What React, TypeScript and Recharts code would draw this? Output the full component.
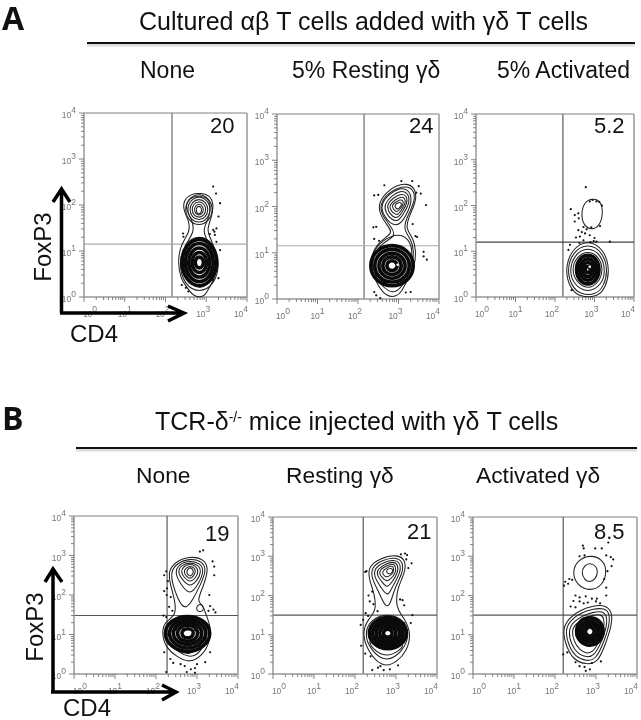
import React from "react";
import { ScatterChart, Scatter, XAxis, YAxis, ReferenceLine } from "recharts";

type Pair = number[];

// Axis ticks, in decades of fluorescence intensity
const majorTicks = [0, 1, 2, 3, 4];
const axisTicks = [
  0, 0.3, 0.48, 0.6, 0.7, 0.78, 0.85, 0.9, 0.95,
  1, 1.3, 1.48, 1.6, 1.7, 1.78, 1.85, 1.9, 1.95,
  2, 2.3, 2.48, 2.6, 2.7, 2.78, 2.85, 2.9, 2.95,
  3, 3.3, 3.48, 3.6, 3.7, 3.78, 3.85, 3.9, 3.95, 4,
];

// Panel A, None
const a1Lines: Pair[][] = [
  [[2.85,2.26],[3.08,2.22],[3.19,2.02],[3.13,1.72],[3.0,1.45],[3.14,1.22],[3.3,0.8],[3.22,0.42],[3.02,0.12],[2.95,0],[2.7,0],[2.58,0.15],[2.36,0.4],[2.3,0.8],[2.38,1.15],[2.6,1.42],[2.58,1.65],[2.44,1.88],[2.44,2.1],[2.62,2.24]],
  [[2.85,2.2],[3.05,2.15],[3.12,1.95],[3.05,1.68],[2.9,1.45],[3.05,1.18],[3.22,0.8],[3.15,0.45],[2.95,0.2],[2.75,0.2],[2.45,0.45],[2.38,0.8],[2.46,1.12],[2.72,1.42],[2.65,1.68],[2.5,1.9],[2.52,2.08],[2.68,2.18]],
  [[3.18,1.9],[3.07,2.15],[2.82,2.26],[2.57,2.15],[2.46,1.9],[2.57,1.65],[2.82,1.54],[3.07,1.65]],
  [[3.12,1.9],[3.03,2.11],[2.82,2.2],[2.61,2.11],[2.52,1.9],[2.61,1.69],[2.82,1.6],[3.03,1.69]],
  [[3.06,1.9],[2.99,2.07],[2.82,2.14],[2.65,2.07],[2.58,1.9],[2.65,1.73],[2.82,1.66],[2.99,1.73]],
  [[3.0,1.9],[2.95,2.03],[2.82,2.08],[2.69,2.03],[2.64,1.9],[2.69,1.77],[2.82,1.72],[2.95,1.77]],
  [[2.94,1.9],[2.9,1.99],[2.82,2.03],[2.74,1.99],[2.7,1.9],[2.74,1.81],[2.82,1.77],[2.9,1.81]],
  [[2.89,1.89],[2.87,1.95],[2.82,1.98],[2.77,1.95],[2.75,1.89],[2.77,1.83],[2.82,1.8],[2.87,1.83]],
  [[3.34,0.72],[3.2,1.17],[2.83,1.36],[2.46,1.17],[2.32,0.72],[2.46,0.27],[2.83,0.08],[3.2,0.27]],
];
const a1Core: Pair[][] = [
  [[3.3,0.75],[3.16,1.14],[2.83,1.31],[2.5,1.14],[2.36,0.75],[2.5,0.36],[2.83,0.19],[3.16,0.36]],
  [[3.21,0.75],[3.1,1.07],[2.83,1.21],[2.56,1.07],[2.45,0.75],[2.56,0.43],[2.83,0.29],[3.1,0.43]],
  [[3.12,0.75],[3.03,1.0],[2.83,1.1],[2.63,1.0],[2.54,0.75],[2.63,0.5],[2.83,0.4],[3.03,0.5]],
  [[3.03,0.75],[2.97,0.92],[2.83,0.99],[2.69,0.92],[2.63,0.75],[2.69,0.58],[2.83,0.51],[2.97,0.58]],
  [[2.94,0.75],[2.91,0.84],[2.83,0.88],[2.75,0.84],[2.72,0.75],[2.75,0.66],[2.83,0.62],[2.91,0.66]],
];
const a1Dots: Pair[] = [[3.17,2.4],[3.24,2.25],[3.34,2.04],[3.3,1.75],[3.17,1.46],[3.25,1.49],[3.09,1.37],[3.21,1.35],[3.25,1.2],[3.34,1.02],[2.4,0.26],[2.56,0.12],[3.17,0.37],[3.3,0.41],[2.44,1.31],[2.43,1.38],[3.2,1.42],[2.5,0.2]];
const a1Center: Pair[] = [[2.83,0.76],[2.82,1.9]];

// Panel A, 5% Resting
const a2Lines: Pair[][] = [
  [[3.2,2.5],[3.41,2.41],[3.45,2.14],[3.28,1.82],[3.16,1.53],[3.37,1.31],[3.43,1.06],[3.41,0.7],[3.2,0.38],[3.08,0.16],[2.95,0.05],[2.71,0.05],[2.5,0.27],[2.31,0.63],[2.31,0.91],[2.5,1.24],[2.87,1.42],[2.75,1.56],[2.54,1.82],[2.5,2.07],[2.71,2.32],[2.95,2.46]],
  [[3.2,2.44],[3.38,2.36],[3.41,2.12],[3.24,1.82],[3.1,1.52],[3.32,1.28],[3.38,1.05],[3.35,0.7],[3.16,0.36],[2.95,0.14],[2.75,0.16],[2.52,0.34],[2.36,0.65],[2.36,0.9],[2.56,1.2],[2.95,1.36],[2.83,1.55],[2.58,1.82],[2.54,2.05],[2.75,2.3],[2.98,2.4]],
  [[3.24,2.38],[3.35,2.14],[3.2,1.82],[3.02,1.58],[2.8,1.62],[2.62,1.82],[2.56,2.05],[2.78,2.28],[3.03,2.4]],
  [[3.22,2.31],[3.29,2.11],[3.14,1.86],[2.99,1.67],[2.83,1.71],[2.68,1.87],[2.64,2.04],[2.84,2.24],[3.04,2.34]],
  [[3.19,2.25],[3.23,2.09],[3.1,1.89],[2.98,1.74],[2.85,1.78],[2.74,1.91],[2.71,2.04],[2.87,2.19],[3.05,2.27]],
  [[3.16,2.19],[3.18,2.07],[3.06,1.91],[2.98,1.81],[2.88,1.85],[2.79,1.94],[2.78,2.04],[2.91,2.14],[3.05,2.21]],
  [[3.12,2.13],[3.12,2.04],[3.03,1.94],[2.97,1.88],[2.9,1.91],[2.85,1.98],[2.85,2.05],[2.95,2.1],[3.04,2.15]],
  [[3.08,2.08],[3.07,2.02],[3.01,1.96],[2.97,1.94],[2.93,1.97],[2.91,2.01],[2.93,2.05],[3.0,2.09]],
  [[3.0,1.42],[3.26,1.3],[3.36,1.02],[3.27,0.58],[2.98,0.2],[2.58,0.36],[2.3,0.72],[2.38,1.05],[2.65,1.3]],
];
const a2Core: Pair[][] = [
  [[3.42,0.72],[3.25,1.06],[2.84,1.2],[2.43,1.06],[2.26,0.72],[2.43,0.38],[2.84,0.24],[3.25,0.38]],
  [[3.31,0.72],[3.17,1.0],[2.84,1.11],[2.51,1.0],[2.37,0.72],[2.51,0.44],[2.84,0.33],[3.17,0.44]],
  [[3.2,0.72],[3.09,0.93],[2.84,1.02],[2.59,0.93],[2.48,0.72],[2.59,0.51],[2.84,0.42],[3.09,0.51]],
  [[3.09,0.72],[3.02,0.87],[2.84,0.93],[2.66,0.87],[2.59,0.72],[2.66,0.57],[2.84,0.51],[3.02,0.57]],
  [[2.98,0.72],[2.94,0.8],[2.84,0.84],[2.74,0.8],[2.7,0.72],[2.74,0.64],[2.84,0.6],[2.94,0.64]],
];
const a2Dots: Pair[] = [[3.07,2.55],[3.34,2.55],[3.5,2.44],[3.55,2.28],[3.68,2.03],[3.44,2.3],[2.65,2.46],[2.5,2.25],[2.4,2.24],[2.38,1.55],[2.45,1.56],[2.4,1.3],[2.52,1.26],[3.35,1.62],[3.42,1.36],[3.46,1.34],[3.62,1.02],[3.7,0.85],[3.62,0.92],[2.4,0.15],[2.45,0.08],[3.3,0.15],[3.18,0.14],[2.55,0.02]];
const a2Center: Pair[] = [[2.98,0.74],[2.98,2.01]];

// Panel A, 5% Activated
const a3Lines: Pair[][] = [
  [[3.22,1.85],[3.16,2.1],[2.95,2.16],[2.74,2.08],[2.66,1.82],[2.72,1.56],[2.93,1.46],[3.14,1.56]],
  [[3.39,0.58],[3.25,1.04],[2.83,1.26],[2.41,1.04],[2.25,0.58],[2.38,0.2],[2.6,0],[3.08,0],[3.28,0.2]],
  [[3.34,0.58],[3.22,0.98],[2.83,1.18],[2.44,0.98],[2.3,0.58],[2.42,0.24],[2.64,0.05],[3.04,0.05],[3.24,0.24]],
  [[3.28,0.58],[3.17,0.93],[2.83,1.1],[2.49,0.93],[2.36,0.58],[2.47,0.27],[2.83,0.08],[3.19,0.27]],
  [[3.22,0.6],[3.12,0.88],[2.83,1.02],[2.54,0.88],[2.42,0.6],[2.54,0.32],[2.83,0.16],[3.12,0.32]],
];
const a3Core: Pair[][] = [
  [[3.14,0.6],[3.06,0.84],[2.83,0.95],[2.6,0.84],[2.52,0.6],[2.6,0.36],[2.83,0.25],[3.06,0.36]],
  [[3.06,0.6],[2.99,0.78],[2.83,0.86],[2.67,0.78],[2.6,0.6],[2.67,0.42],[2.83,0.34],[2.99,0.42]],
  [[2.98,0.6],[2.93,0.72],[2.83,0.77],[2.73,0.72],[2.68,0.6],[2.73,0.48],[2.83,0.43],[2.93,0.48]],
  [[2.9,0.6],[2.88,0.65],[2.83,0.68],[2.78,0.65],[2.76,0.6],[2.78,0.55],[2.83,0.52],[2.88,0.55]],
];
const a3Dots: Pair[] = [[2.78,2.4],[2.4,1.92],[2.5,1.65],[2.5,1.79],[2.59,1.83],[2.6,1.72],[2.88,2.09],[2.95,2.12],[3.05,2.09],[3.12,2.08],[3.19,2.0],[3.14,1.55],[2.59,1.46],[2.72,1.53],[2.63,1.32],[2.76,1.39],[2.88,1.35],[3.0,1.29],[3.05,1.21],[3.39,1.21],[2.72,1.24],[2.38,1.14],[2.34,1.03],[2.42,0.15],[2.53,1.3],[2.8,1.48],[2.92,1.52],[2.68,1.42],[2.62,1.18],[2.9,1.2],[2.98,1.22]];
const a3Center: Pair[] = [[2.88,0.66]];

// Panel B, None
const b1Lines: Pair[][] = [
  [[2.83,2.99],[3.2,2.9],[3.28,2.63],[3.15,2.21],[2.99,1.83],[3.15,1.75],[3.2,1.54],[3.33,1.24],[3.33,0.86],[3.15,0.48],[2.83,0.27],[2.5,0.44],[2.22,0.69],[2.14,1.07],[2.22,1.33],[2.5,1.49],[2.46,1.87],[2.34,2.3],[2.3,2.59],[2.46,2.84]],
  [[2.83,2.93],[3.14,2.85],[3.23,2.62],[3.08,2.25],[2.9,1.88],[2.7,1.6],[2.52,1.92],[2.4,2.3],[2.36,2.58],[2.5,2.8]],
  [[2.83,2.88],[3.09,2.8],[3.17,2.6],[3.05,2.3],[2.83,1.98],[2.62,2.25],[2.45,2.55],[2.55,2.78]],
  [[2.83,2.83],[3.04,2.76],[3.11,2.58],[3.0,2.36],[2.83,2.2],[2.66,2.36],[2.52,2.58],[2.62,2.76]],
  [[2.83,2.79],[2.99,2.73],[3.04,2.58],[2.96,2.42],[2.83,2.32],[2.7,2.42],[2.6,2.58],[2.67,2.73]],
  [[2.83,2.74],[2.94,2.69],[2.97,2.58],[2.91,2.47],[2.83,2.4],[2.74,2.47],[2.67,2.58],[2.73,2.69]],
  [[2.83,2.7],[2.89,2.66],[2.92,2.58],[2.88,2.51],[2.83,2.47],[2.78,2.51],[2.74,2.58],[2.78,2.66]],
  [[3.07,1.78],[3.15,1.72],[3.17,1.62],[3.07,1.56],[2.98,1.62],[3.0,1.72]],
  [[3.3,1.06],[3.15,1.38],[2.75,1.5],[2.35,1.38],[2.17,1.06],[2.35,0.7],[2.83,0.36],[3.12,0.58]],
  [[3.22,1.0],[3.1,0.72],[2.83,0.46],[2.5,0.6],[2.28,0.8],[2.2,1.05],[2.75,1.2]],
];
const b1Core: Pair[][] = [
  [[3.37,1.03],[3.19,1.37],[2.77,1.5],[2.35,1.37],[2.17,1.03],[2.35,0.68],[2.77,0.52],[3.19,0.68]],
  [[3.26,1.03],[3.11,1.32],[2.77,1.42],[2.43,1.32],[2.28,1.03],[2.43,0.74],[2.77,0.62],[3.11,0.74]],
  [[3.15,1.03],[3.04,1.26],[2.77,1.34],[2.5,1.26],[2.39,1.03],[2.5,0.8],[2.77,0.72],[3.04,0.8]],
  [[3.04,1.03],[2.96,1.2],[2.77,1.25],[2.58,1.2],[2.5,1.03],[2.58,0.86],[2.77,0.81],[2.96,0.86]],
  [[2.92,1.03],[2.88,1.12],[2.77,1.16],[2.66,1.12],[2.62,1.03],[2.66,0.94],[2.77,0.9],[2.88,0.94]],
];
const b1Dots: Pair[] = [[3.15,3.13],[3.07,3.1],[3.38,2.85],[3.42,2.72],[3.42,2.5],[2.25,2.6],[2.2,2.5],[2.29,2.35],[2.27,2.17],[2.2,2.1],[2.26,2.0],[2.36,1.95],[3.3,2.0],[3.32,1.72],[3.4,1.63],[3.45,1.56],[2.32,1.7],[2.4,1.6],[2.18,1.48],[2.25,1.44],[3.28,1.6],[2.2,0.55],[2.35,0.38],[2.42,0.28],[2.6,0.25],[2.7,0.2],[2.85,0.12],[2.95,0.15],[3.0,0.25],[3.2,0.3],[3.32,0.55],[2.25,0.05],[2.95,0.03],[2.75,0.05]];
const b1Center: Pair[] = [[2.83,1.06],[2.83,2.59]];

// Panel B, Resting
const b2Lines: Pair[][] = [
  [[3.02,3.05],[3.24,2.91],[3.22,2.56],[3.02,2.18],[3.0,1.67],[3.18,1.46],[3.38,1.04],[3.26,0.57],[3.02,0.31],[2.77,0.19],[2.53,0.31],[2.33,0.57],[2.16,1.04],[2.33,1.42],[2.51,1.59],[2.49,2.01],[2.33,2.44],[2.33,2.74],[2.61,2.95]],
  [[2.98,2.98],[3.18,2.86],[3.16,2.56],[2.96,2.18],[2.86,1.75],[2.74,1.7],[2.6,2.05],[2.4,2.44],[2.4,2.72],[2.66,2.9]],
  [[2.95,2.92],[3.12,2.82],[3.1,2.56],[2.92,2.25],[2.8,1.95],[2.64,2.2],[2.47,2.46],[2.47,2.7],[2.7,2.85]],
  [[2.93,2.87],[3.06,2.78],[3.04,2.56],[2.9,2.34],[2.78,2.18],[2.65,2.36],[2.54,2.5],[2.54,2.68],[2.74,2.8]],
  [[2.92,2.82],[3.0,2.74],[2.99,2.56],[2.87,2.42],[2.76,2.35],[2.66,2.46],[2.6,2.54],[2.6,2.66],[2.77,2.76]],
  [[2.9,2.76],[2.95,2.7],[2.94,2.58],[2.85,2.5],[2.75,2.46],[2.68,2.54],[2.66,2.62],[2.8,2.72]],
  [[2.88,2.7],[2.93,2.65],[2.9,2.58],[2.85,2.55],[2.79,2.56],[2.76,2.62],[2.8,2.68]],
  [[3.34,1.04],[3.18,1.4],[2.78,1.54],[2.4,1.4],[2.22,1.04],[2.38,0.6],[2.76,0.28],[3.18,0.58]],
  [[3.24,0.8],[3.1,0.6],[2.76,0.42],[2.44,0.62],[2.28,0.9],[2.78,1.0]],
];
const b2Core: Pair[][] = [
  [[3.3,1.04],[3.15,1.35],[2.8,1.48],[2.45,1.35],[2.3,1.04],[2.45,0.73],[2.8,0.6],[3.15,0.73]],
  [[3.21,1.04],[3.09,1.29],[2.8,1.4],[2.51,1.29],[2.39,1.04],[2.51,0.79],[2.8,0.68],[3.09,0.79]],
  [[3.12,1.04],[3.02,1.24],[2.8,1.32],[2.58,1.24],[2.48,1.04],[2.58,0.84],[2.8,0.76],[3.02,0.84]],
  [[3.02,1.04],[2.95,1.18],[2.8,1.24],[2.65,1.18],[2.58,1.04],[2.65,0.9],[2.8,0.84],[2.95,0.9]],
  [[2.92,1.04],[2.88,1.12],[2.8,1.15],[2.72,1.12],[2.68,1.04],[2.72,0.96],[2.8,0.93],[2.88,0.96]],
];
const b2Dots: Pair[] = [[3.22,3.07],[3.27,3.03],[3.12,3.05],[3.38,2.82],[3.3,2.7],[3.25,2.92],[2.28,2.62],[2.25,2.6],[2.33,2.0],[2.36,1.85],[2.42,2.1],[2.45,1.78],[3.1,1.9],[3.16,1.88],[3.2,1.75],[2.26,1.55],[2.32,1.48],[2.55,1.6],[3.2,1.3],[3.4,1.5],[3.36,1.3],[2.15,0.72],[2.25,0.52],[2.38,0.45],[2.56,0.16],[2.62,0.2],[2.7,0.1],[2.85,0.12],[3.05,0.22],[2.42,0.1],[2.14,1.25],[2.2,1.38]];
const b2Center: Pair[] = [[2.8,1.04],[2.85,2.65]];

// Panel B, Activated
const b3Lines: Pair[][] = [
  [[3.27,2.62],[3.17,2.92],[2.86,3.04],[2.55,2.9],[2.42,2.6],[2.52,2.28],[2.84,2.1],[3.17,2.26]],
  [[3.05,2.6],[3.0,2.76],[2.85,2.83],[2.71,2.76],[2.64,2.58],[2.72,2.4],[2.85,2.33],[2.99,2.42]],
  [[3.22,1.76],[3.4,1.59],[3.38,1.21],[3.22,0.74],[3.06,0.31],[2.77,0.23],[2.45,0.36],[2.29,0.66],[2.17,1.12],[2.33,1.42],[2.61,1.63],[2.94,1.74]],
  [[3.2,1.68],[3.34,1.55],[3.32,1.2],[3.17,0.76],[3.0,0.38],[2.77,0.32],[2.5,0.44],[2.34,0.7],[2.24,1.12],[2.38,1.38],[2.65,1.57],[2.94,1.66]],
  [[3.16,1.6],[3.27,1.48],[3.26,1.18],[3.12,0.78],[2.95,0.46],[2.77,0.42],[2.55,0.52],[2.4,0.74],[2.32,1.1],[2.44,1.33],[2.7,1.5],[2.94,1.58]],
  [[3.12,1.52],[3.2,1.42],[3.2,1.16],[3.07,0.8],[2.92,0.55],[2.76,0.52],[2.6,0.62],[2.47,0.8],[2.4,1.1],[2.5,1.28],[2.74,1.44],[2.94,1.5]],
];
const b3Core: Pair[][] = [
  [[3.21,1.1],[3.1,1.37],[2.85,1.46],[2.6,1.37],[2.49,1.08],[2.6,0.81],[2.85,0.7],[3.1,0.81]],
  [[3.13,1.08],[3.05,1.29],[2.85,1.37],[2.65,1.29],[2.57,1.08],[2.65,0.87],[2.85,0.79],[3.05,0.87]],
  [[3.05,1.08],[2.99,1.23],[2.85,1.29],[2.71,1.23],[2.65,1.08],[2.71,0.93],[2.85,0.87],[2.99,0.93]],
  [[2.97,1.08],[2.93,1.17],[2.85,1.21],[2.77,1.17],[2.73,1.08],[2.77,0.99],[2.85,0.95],[2.93,0.99]],
];
const b3Dots: Pair[] = [[2.68,3.27],[2.7,3.2],[2.98,3.2],[3.14,3.2],[3.3,3.35],[2.72,3.02],[2.6,3.0],[3.25,3.02],[3.36,2.98],[3.42,2.92],[3.38,2.75],[3.28,2.62],[3.2,2.42],[2.25,2.35],[2.35,2.42],[2.42,2.4],[2.22,2.25],[2.32,2.3],[3.25,2.2],[2.5,2.0],[2.6,1.95],[2.75,1.98],[2.9,1.92],[3.02,1.92],[3.25,2.0],[2.45,1.86],[2.6,1.85],[2.8,1.82],[3.0,1.85],[3.1,1.8],[2.38,1.72],[2.5,1.7],[2.7,1.8],[2.3,0.55],[2.2,0.5],[2.5,0.3],[2.6,0.2],[2.75,0.08],[2.85,0.12],[2.72,0.18],[2.9,0.28],[3.12,0.32]];
const b3Center: Pair[] = [[2.84,1.09]];

// Quadrant gates
const gatesX = [2.16, 2.15, 2.2, 2.27, 2.2, 2.2];
const gatesY = [1.15, 1.15, 1.2, 1.48, 1.5, 1.5];

const percents = ["20", "24", "5.2", "19", "21", "8.5"];
const headerA = ["None", "5% Resting γδ", "5% Activated"];
const headerB = ["None", "Resting γδ", "Activated γδ"];

const sans = "'Liberation Sans', Arial, sans-serif";

const frames = [
  { left: 84, top: 113, w: 163, h: 184, hGate: "#aaa", vGate: "#777" },
  { left: 277, top: 114, w: 162, h: 185, hGate: "#aaa", vGate: "#777" },
  { left: 476, top: 114, w: 158, h: 183, hGate: "#444", vGate: "#666" },
  { left: 74, top: 516, w: 164, h: 158, hGate: "#555", vGate: "#666" },
  { left: 273, top: 517, w: 164, h: 157, hGate: "#555", vGate: "#666" },
  { left: 473, top: 517, w: 164, h: 157, hGate: "#555", vGate: "#666" },
];

const panelLines = [a1Lines, a2Lines, a3Lines, b1Lines, b2Lines, b3Lines];
const panelCores = [a1Core, a2Core, a3Core, b1Core, b2Core, b3Core];
const panelDots = [a1Dots, a2Dots, a3Dots, b1Dots, b2Dots, b3Dots];
const panelCenters = [a1Center, a2Center, a3Center, b1Center, b2Center, b3Center];

const toPts = (list: Pair[]) => list.map(([x, y]) => ({ x, y }));
const isMajor = (v: number) => majorTicks.includes(v);
const xLabelShift = [6, 0, -3, -3, -6];

const XTick = (props: any) => {
  const { x, y, payload } = props;
  const v = payload.value;
  const major = isMajor(v);
  return (
    <g>
      <line x1={x} x2={x} y1={y - 8} y2={y - 8 + (major ? 5 : 3)} stroke="#666" strokeWidth={0.8} />
      {major && (
        <text x={x + xLabelShift[v]} y={y + 12} textAnchor="middle" fontSize={8.5} fill="#777" fontFamily={sans}>
          <tspan>10</tspan>
          <tspan dy={-5} fontSize={8.5}>{v}</tspan>
        </text>
      )}
    </g>
  );
};

const YTick = (props: any) => {
  const { x, y, payload } = props;
  const v = payload.value;
  const major = isMajor(v);
  return (
    <g>
      <line x1={x + 8} x2={x + 8 - (major ? 5 : 3)} y1={y} y2={y} stroke="#666" strokeWidth={0.8} />
      {major && (
        <text x={x} y={y + 5} textAnchor="end" fontSize={8.5} fill="#777" fontFamily={sans}>
          <tspan>10</tspan>
          <tspan dy={-5} fontSize={8.5}>{v}</tspan>
        </text>
      )}
    </g>
  );
};

const noPoint = () => <g />;
const Dot = (p: any) => <circle cx={p.cx} cy={p.cy} r={1.1} fill="#111" />;
const WhiteDot = (p: any) => <circle cx={p.cx} cy={p.cy} r={1.3} fill="#fff" />;

const Panel = ({ i }: { i: number }) => {
  const f = frames[i];
  const padL = 34;
  const padT = 14;
  const padB = 30;
  const padR = 10;
  return (
    <div style={{ position: "absolute", left: f.left - padL, top: f.top - padT }}>
      <ScatterChart
        width={f.w + padL + padR}
        height={f.h + padT + padB}
        margin={{ left: 0, right: padR, top: padT, bottom: 0 }}
      >
        <XAxis
          type="number"
          dataKey="x"
          domain={[0, 4]}
          ticks={axisTicks}
          interval={0}
          height={padB}
          tickLine={false}
          tick={<XTick />}
          stroke="#999"
          strokeWidth={1.5}
        />
        <YAxis
          type="number"
          dataKey="y"
          domain={[0, 4]}
          ticks={axisTicks}
          interval={0}
          width={padL}
          tickLine={false}
          tick={<YTick />}
          stroke="#999"
          strokeWidth={1.5}
        />
        <ReferenceLine x={4} stroke="#999" strokeWidth={1.5} />
        <ReferenceLine y={4} stroke="#aaa" strokeWidth={1.5} />
        <ReferenceLine x={gatesX[i]} stroke={f.vGate} strokeWidth={1.3} />
        <ReferenceLine y={gatesY[i]} stroke={f.hGate} strokeWidth={1.1} />
        {panelLines[i].map((ring, k) => (
          <Scatter
            key={"l" + k}
            data={toPts(ring)}
            line={{ stroke: "#222", strokeWidth: 1.05, fill: "none" }}
            lineJointType="basisClosed"
            shape={noPoint}
            isAnimationActive={false}
          />
        ))}
        {panelCores[i].map((ring, k) => (
          <Scatter
            key={"c" + k}
            data={toPts(ring)}
            line={{ stroke: "#0a0a0a", strokeWidth: 3.6, fill: "none" }}
            lineJointType="basisClosed"
            shape={noPoint}
            isAnimationActive={false}
          />
        ))}
        <Scatter data={toPts(panelDots[i])} shape={Dot} isAnimationActive={false} />
        <Scatter data={toPts(panelCenters[i])} shape={WhiteDot} isAnimationActive={false} />
      </ScatterChart>
    </div>
  );
};

const Header = ({ x, y, children, size = 23 }: any) => (
  <text x={x} y={y} fontSize={size} fontFamily={sans} fill="#111">{children}</text>
);

export default function App() {
  return (
    <div style={{ position: "fixed", left: 0, top: 0, width: 641, height: 720, background: "#fff", overflow: "hidden", filter: "blur(0.3px)" }}>
      {frames.map((_, i) => <Panel key={i} i={i} />)}
      <svg width={641} height={720} style={{ position: "absolute", left: 0, top: 0, pointerEvents: "none" }}>
        <text x={2} y={30} fontSize={32} fontWeight="bold" fontFamily="'Open Sans', sans-serif" fill="#111">A</text>
        <text x={2} y={430} fontSize={32} fontWeight="bold" fontFamily="'Open Sans', sans-serif" fill="#111">B</text>

        <Header x={139} y={30} size={25}>Cultured αβ T cells added with γδ T cells</Header>
        <line x1={87} x2={635} y1={45} y2={45} stroke="#ddd" strokeWidth={3} />
        <line x1={87} x2={635} y1={43} y2={43} stroke="#111" strokeWidth={2} />
        <Header x={140} y={78}>{headerA[0]}</Header>
        <Header x={292} y={78}>{headerA[1]}</Header>
        <Header x={497} y={78}>{headerA[2]}</Header>

        <text x={155} y={430} fontSize={25} fontFamily={sans} fill="#111">
          TCR-δ<tspan dy={-8} fontSize={14}>-/-</tspan><tspan dy={8}> mice injected with γδ T cells</tspan>
        </text>
        <line x1={76} x2={637} y1={450} y2={450} stroke="#ddd" strokeWidth={3} />
        <line x1={76} x2={637} y1={448} y2={448} stroke="#111" strokeWidth={2} />
        <Header x={136} y={483} size={22.8}>{headerB[0]}</Header>
        <Header x={286} y={483} size={22.8}>{headerB[1]}</Header>
        <Header x={476} y={483} size={22.8}>{headerB[2]}</Header>

        <Header x={210} y={133} size={22}>{percents[0]}</Header>
        <Header x={409} y={133} size={22}>{percents[1]}</Header>
        <Header x={594} y={133} size={22}>{percents[2]}</Header>
        <Header x={205} y={541} size={22}>{percents[3]}</Header>
        <Header x={407} y={539} size={22}>{percents[4]}</Header>
        <Header x={594} y={539} size={22}>{percents[5]}</Header>

        <g stroke="#000" strokeWidth={3.5} fill="none">
          <path d="M61.5 313 V190 M53 202 L61.5 189 L70 202" />
          <path d="M60 313 H183 M168 306 L184 313 L168 321" />
          <path d="M53 692 V570 M45 582 L53 569 L62 582" />
          <path d="M51 692 H175 M162 685 L176 692 L162 700" />
        </g>

        <text transform="translate(51,247) rotate(-90)" textAnchor="middle" fontSize={24} fontFamily={sans} fill="#111">FoxP3</text>
        <text x={70} y={342} fontSize={24} fontFamily={sans} fill="#111">CD4</text>
        <text transform="translate(43,627) rotate(-90)" textAnchor="middle" fontSize={24} fontFamily={sans} fill="#111">FoxP3</text>
        <text x={63} y={716} fontSize={24} fontFamily={sans} fill="#111">CD4</text>
      </svg>
    </div>
  );
}
